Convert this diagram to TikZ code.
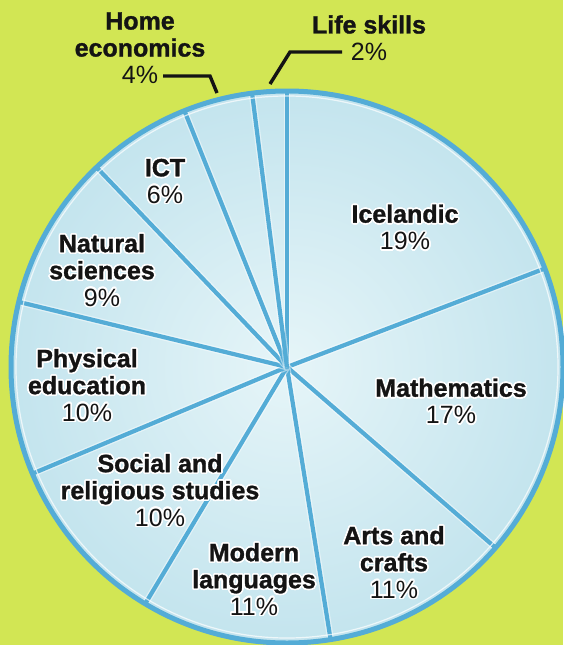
\documentclass[tikz,border=0pt]{standalone}
\usepackage{fontspec}
\setmainfont{Liberation Sans}[BoldFeatures={FakeBold=1.2}]
\usepackage{contour}
\contourlength{1.6pt}
\contournumber{20}
\definecolor{meadow}{RGB}{210,230,84}
\definecolor{piecentre}{RGB}{230,245,248}
\definecolor{pieedge}{RGB}{162,212,228}
\definecolor{spokeblue}{RGB}{84,172,214}
\definecolor{ink}{RGB}{20,20,20}
\pgfdeclareradialshading{pieglow}{\pgfpoint{0bp}{0bp}}{color(0bp)=(piecentre); color(22bp)=(piecentre!55!pieedge); color(50bp)=(pieedge)}
\tikzset{spoke/.style = {draw=spokeblue, line width=4.2, preaction={draw=white, line width=6.8, opacity=0.45}}}
\tikzset{pielabel/.style = {align=center, inner sep=0, text=ink, font=\fontsize{25}{27}\selectfont}}
\tikzset{leader/.style = {draw=ink, line width=3.4}}
\newcommand\nm[1]{\contour{white}{\bfseries #1}}
\newcommand\pc[1]{\contour{white}{#1}}

\begin{document}
\begin{tikzpicture}[x=1pt, y=1pt]
    \useasboundingbox (0,0) rectangle (563,-645);
    \fill[meadow] (0,0) rectangle (563,-645);
    \coordinate (o) at (287,-367);
    \shade[shading=pieglow] (o) circle [radius=276];

    % slice borders, clockwise from the top
    \draw[spoke] (o) -- ++(90:276);
    \draw[spoke] (o) -- ++(20.91:276);
    \draw[spoke] (o) -- ++(-40.91:276);
    \draw[spoke] (o) -- ++(-80.91:276);
    \draw[spoke] (o) -- ++(-120.91:276);
    \draw[spoke] (o) -- ++(-157.27:276);
    \draw[spoke] (o) -- ++(166.36:276);
    \draw[spoke] (o) -- ++(133.64:276);
    \draw[spoke] (o) -- ++(111.82:276);
    \draw[spoke] (o) -- ++(97.27:276);
    \draw[white, opacity=0.7, line width=1.2] (o) circle [radius=271];
    \draw[spokeblue, line width=5] (o) circle [radius=276];

    \node[pielabel] (icelandic) at (405,-228) {\nm{Icelandic}\\\pc{19\%}};
    \node[pielabel] (maths) at (451,-402) {\nm{Mathematics}\\\pc{17\%}};
    \node[pielabel] (arts) at (394,-563) {\nm{Arts and}\\\nm{crafts}\\\pc{11\%}};
    \node[pielabel] (modern) at (254,-580) {\nm{Modern}\\\nm{languages}\\\pc{11\%}};
    \node[pielabel] (social) at (160,-491) {\nm{Social and}\\\nm{religious studies}\\\pc{10\%}};
    \node[pielabel] (pe) at (87,-386) {\nm{Physical}\\\nm{education}\\\pc{10\%}};
    \node[pielabel] (natsci) at (102,-271) {\nm{Natural}\\\nm{sciences}\\\pc{9\%}};
    \node[pielabel] (ict) at (165,-182) {\nm{ICT}\\\pc{6\%}};
    \node[pielabel] (homeec) at (140,-48) {\textbf{Home}\\\textbf{economics}\\4\%};
    \node[pielabel] (life) at (369,-38) {\textbf{Life skills}\\2\%};

    % leader lines for the two thin slices
    \coordinate (he-a) at (163,-76);
    \coordinate (he-b) at (210,-76);
    \coordinate (he-c) at (217,-93);
    \draw[leader] (he-a) -- (he-b) -- (he-c);
    \coordinate (ls-a) at (270,-84);
    \coordinate (ls-b) at (290,-52);
    \coordinate (ls-c) at (342,-52);
    \draw[leader] (ls-a) -- (ls-b) -- (ls-c);
\end{tikzpicture}
\end{document}
